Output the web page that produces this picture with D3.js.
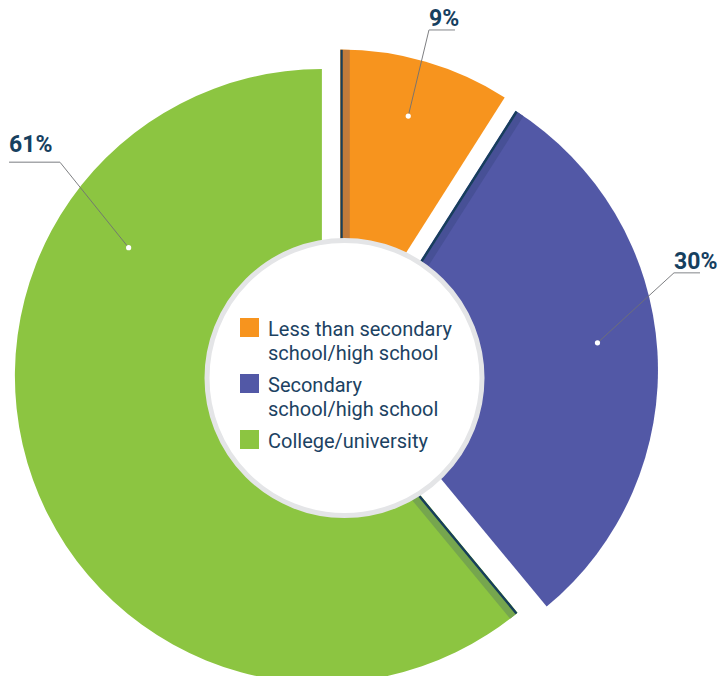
<!DOCTYPE html>
<html>
<head>
<meta charset="utf-8">
<script src="https://cdn.jsdelivr.net/npm/d3@7"></script>
<style>
  html, body { margin: 0; padding: 0; background: #ffffff; }
  svg { display: block; }
</style>
</head>
<body>
<svg id="chart" width="718" height="676"></svg>
<script>
// ---- data ----
const categories = ["Less than secondary school/high school", "Secondary school/high school", "College/university"];
const values = [9, 30, 61];
const valueLabels = ["9%", "30%", "61%"];
const legendLines = [["Less than secondary", "school/high school"], ["Secondary", "school/high school"], ["College/university"]];
const colors = ["#f7941e", "#5258a6", "#8cc541"];
const sideColors = ["#c27b3b", "#475096", "#76a64e"];

// ---- layout (style, not data) ----
const W = 718, H = 676;
const cx = 336, cy = 371, R = 307, explode = 15;
const ring = { x: 344.5, y: 378, r: 137.5, stroke: 5 };
const dotR = [250, 248, 232];
const elbowR = [353.5, 352, 346];
const dotAngleDeg = [15.8, 83.7, 303.6];
const elbowAngleDeg = [15.25, 73.8, 307.1];
const segLen = [26, 26, 51];
const labelDy = [-3.5, -4, -10];
const navy = "#173e5c";

const svg = d3.select("#chart");
const defs = svg.append("defs");

const pie = d3.pie().sort(null).value(d => d).startAngle(0).endAngle(2 * Math.PI);
const arcs = pie(values);
const arcGen = d3.arc().innerRadius(0).outerRadius(R);

const rad = a => a * Math.PI / 180;
const polar = (r, a) => [r * Math.sin(a), -r * Math.cos(a)];

arcs.forEach((a, i) => {
  const mid = (a.startAngle + a.endAngle) / 2;
  const [ox, oy] = polar(explode, mid);
  const g = svg.append("g").attr("transform", `translate(${cx + ox},${cy + oy})`);
  defs.append("clipPath").attr("id", "clip" + i)
    .append("path").attr("d", arcGen(a));
  g.append("path").attr("d", arcGen(a)).attr("fill", colors[i]);
  // extruded side on the start edge
  const s = a.startAngle;
  const px = Math.cos(s), py = Math.sin(s);
  const [ex, ey] = polar(R + 5, s);
  const cg = g.append("g").attr("clip-path", `url(#clip${i})`);
  const stripW = 7, lineW = 2.6;
  const o1 = lineW + stripW / 2;
  cg.append("line")
    .attr("x1", px * o1).attr("y1", py * o1)
    .attr("x2", ex + px * o1).attr("y2", ey + py * o1)
    .attr("stroke", sideColors[i]).attr("stroke-width", stripW);
  const o2 = lineW / 2;
  cg.append("line")
    .attr("x1", px * o2).attr("y1", py * o2)
    .attr("x2", ex + px * o2).attr("y2", ey + py * o2)
    .attr("stroke", navy).attr("stroke-width", lineW);
});

// center ring
svg.append("circle")
  .attr("cx", ring.x).attr("cy", ring.y).attr("r", ring.r)
  .attr("fill", "#ffffff").attr("stroke", "#e4e5e7").attr("stroke-width", ring.stroke);

// leader lines + labels
const labelG = svg.append("g");
arcs.forEach((a, i) => {
  const mid = (a.startAngle + a.endAngle) / 2;
  const [ox, oy] = polar(explode, mid);
  const [dx, dy] = polar(dotR[i], rad(dotAngleDeg[i]));
  const dot = [cx + ox + dx, cy + oy + dy];
  const [exx, eyy] = polar(elbowR[i], rad(elbowAngleDeg[i]));
  const elbow = [cx + exx, cy + eyy];
  const right = elbow[0] > cx;
  const end = [elbow[0] + (right ? segLen[i] : -segLen[i]), elbow[1]];
  labelG.append("path")
    .attr("d", d3.line()([dot, elbow]))
    .attr("fill", "none").attr("stroke", "#6f7174").attr("stroke-width", 0.9);
  labelG.append("path")
    .attr("d", d3.line()([elbow, end]))
    .attr("fill", "none").attr("stroke", "#a6a8ab").attr("stroke-width", 1.4);
  labelG.append("circle").attr("cx", dot[0]).attr("cy", dot[1]).attr("r", 2.6).attr("fill", "#ffffff");
  labelG.append("text")
    .attr("x", right ? elbow[0] : end[0])
    .attr("y", elbow[1] + labelDy[i])
    .attr("text-anchor", "start")
    .attr("font-family", "Roboto, 'Open Sans', sans-serif")
    .attr("font-weight", 700)
    .attr("font-size", 23)
    .attr("fill", "#16405f")
    .text(valueLabels[i]);
});

// legend inside ring
const legend = svg.append("g").attr("transform", "translate(240,318)");
const itemY = [0, 56, 112];
categories.forEach((c, i) => {
  const item = legend.append("g").attr("transform", `translate(0,${itemY[i]})`);
  item.append("rect").attr("x", 0).attr("y", 0).attr("width", 19).attr("height", 19).attr("fill", colors[i]);
  legendLines[i].forEach((ln, j) => {
    item.append("text")
      .attr("x", 28).attr("y", 18 + j * 24)
      .attr("font-family", "Roboto, sans-serif")
      .attr("font-size", 20)
      .attr("fill", "#1c4262")
      .text(ln);
  });
});
</script>
</body>
</html>
